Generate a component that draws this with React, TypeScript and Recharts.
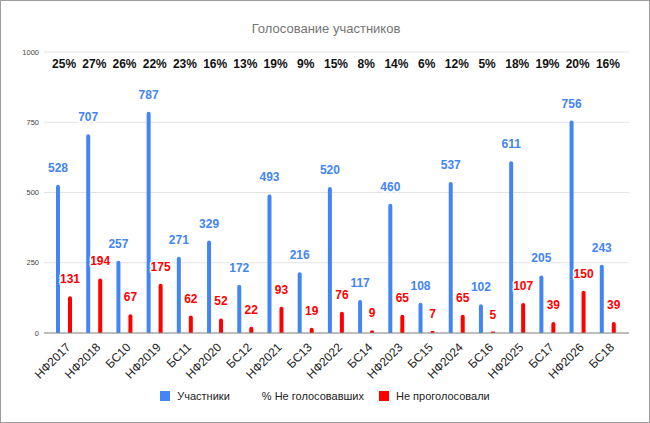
import React from 'react';
import { ComposedChart, Bar, Line, XAxis, YAxis, CartesianGrid, LabelList, Legend } from 'recharts';

const categories = ['НФ2017', 'НФ2018', 'БС10', 'НФ2019', 'БС11', 'НФ2020', 'БС12', 'НФ2021', 'БС13', 'НФ2022', 'БС14', 'НФ2023', 'БС15', 'НФ2024', 'БС16', 'НФ2025', 'БС17', 'НФ2026', 'БС18'];
const participants = [528, 707, 257, 787, 271, 329, 172, 493, 216, 520, 117, 460, 108, 537, 102, 611, 205, 756, 243];
const notVotedPct = [25, 27, 26, 22, 23, 16, 13, 19, 9, 15, 8, 14, 6, 12, 5, 18, 19, 20, 16];
const notVoted = [131, 194, 67, 175, 62, 52, 22, 93, 19, 76, 9, 65, 7, 65, 5, 107, 39, 150, 39];
const yTicks = [0, 250, 500, 750, 1000];

const Y_MAX = 1000;
const BLUE = '#4285f4';
const RED = '#ff0000';
const FONT = '"Liberation Sans", Arial, sans-serif';

const data = categories.map((name, i) => ({
  name,
  participants: participants[i],
  pct: notVotedPct[i],
  notVoted: notVoted[i],
}));

// category labels turned -45°
const CategoryTick = ({ x, y, payload }: any) => (
  <text
    x={x + 7}
    y={y + 7}
    transform={`rotate(-45, ${x + 7}, ${y + 7})`}
    textAnchor="end"
    fontSize={12}
    fill="#222"
    fontFamily={FONT}
  >
    {payload.value}
  </text>
);

const legendItems = [
  { label: 'Участники', color: BLUE },
  { label: '% Не голосовавших', color: 'transparent' },
  { label: 'Не проголосовали', color: RED },
];

const LegendContent = () => (
  <div style={{ display: 'flex', justifyContent: 'center', alignItems: 'center', gap: 15, height: 14, fontSize: 11, color: '#222', fontFamily: FONT }}>
    {legendItems.map(item => (
      <span key={item.label} style={{ display: 'flex', alignItems: 'center', gap: 7 }}>
        <span style={{ width: 10, height: 10, background: item.color, display: 'inline-block' }} />
        {item.label}
      </span>
    ))}
  </div>
);

const labelStyle = { stroke: '#fff', strokeWidth: 3, paintOrder: 'stroke' as const };

export default function App() {
  return (
    <div style={{ position: 'relative', width: 650, height: 423, boxSizing: 'border-box', border: '1px solid #9e9e9e', background: '#fff', fontFamily: FONT }}>
      <style>{`body{margin:0}`}</style>
      <div style={{ position: 'absolute', top: 20, left: 0, width: 650, textAlign: 'center', fontSize: 13, lineHeight: '15px', color: '#757575' }}>
        Голосование участников
      </div>
      <div style={{ position: 'absolute', top: -1, left: -1 }}>
        <ComposedChart width={650} height={423} data={data} margin={{ top: 52, right: 21, bottom: 20, left: 0 }} barSize={4} barGap={8}>
          <CartesianGrid vertical={false} stroke="#e3e3e3" />
          <XAxis
            dataKey="name"
            interval={0}
            height={56}
            padding={{ left: 5, right: 6 }}
            tickLine={false}
            axisLine={{ stroke: '#8a8a8a' }}
            tick={<CategoryTick />}
          />
          <YAxis
            width={44}
            domain={[0, Y_MAX]}
            ticks={yTicks}
            axisLine={false}
            tickLine={false}
            tickSize={3}
            tickMargin={2}
            tick={{ fontSize: 7.5, fill: '#444', fontFamily: FONT }}
          />
          <Bar dataKey="participants" name="Участники" fill={BLUE} radius={[2, 2, 0, 0]} isAnimationActive={false}>
            <LabelList dataKey="participants" position="top" offset={13} fill={BLUE} fontSize={12} fontWeight="bold" fontFamily={FONT} style={labelStyle} />
          </Bar>
          <Line
            dataKey={() => Y_MAX}
            name="% Не голосовавших"
            stroke="none"
            dot={false}
            activeDot={false}
            legendType="none"
            isAnimationActive={false}
          >
            <LabelList dataKey="pct" position="bottom" offset={7} formatter={(v: any) => `${v}%`} fill="#111" fontSize={12} fontWeight="bold" fontFamily={FONT} />
          </Line>
          <Bar dataKey="notVoted" name="Не проголосовали" fill={RED} radius={[2, 2, 0, 0]} isAnimationActive={false}>
            <LabelList dataKey="notVoted" position="top" offset={13} fill={RED} fontSize={12} fontWeight="bold" fontFamily={FONT} style={labelStyle} />
          </Bar>
          <Legend verticalAlign="bottom" content={<LegendContent />} wrapperStyle={{ left: 0, width: 650 }} />
        </ComposedChart>
      </div>
    </div>
  );
}
